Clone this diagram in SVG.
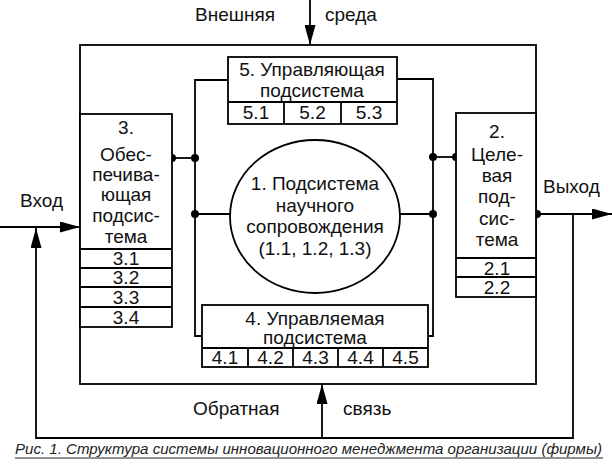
<svg xmlns="http://www.w3.org/2000/svg" width="612" height="468" viewBox="0 0 612 468">
<defs>
<marker id="arrB" markerWidth="20" markerHeight="11" refX="20" refY="5.5" orient="auto" markerUnits="userSpaceOnUse">
<path d="M0,0 L20,5.5 L0,11 Z" fill="#000"/>
</marker>
<style>
.ln{fill:none;stroke:#000;stroke-width:1.8}
.bx{fill:#fff;stroke:#000;stroke-width:1.8}
.t{font-family:"Liberation Sans",Arial,sans-serif;font-size:19px;fill:#111;text-anchor:middle}
.tl{font-family:"Liberation Sans",Arial,sans-serif;font-size:19px;fill:#111}
.dot{fill:#000}
.cap{font-family:"Liberation Sans",Arial,sans-serif;font-size:14px;font-style:italic;fill:#222}
</style>
</defs>
<rect width="612" height="468" fill="#fff"/>

<g id="connectors">
<rect class="ln" x="80" y="45" width="456" height="339"/>
<line class="ln" x1="310" y1="0" x2="310" y2="45" marker-end="url(#arrB)"/>
<line class="ln" x1="0" y1="227" x2="80" y2="227" marker-end="url(#arrB)"/>
<line class="ln" x1="537" y1="214" x2="612" y2="214" marker-end="url(#arrB)"/>
<polyline class="ln" points="573,214 573,438 36,438 36,228" marker-end="url(#arrB)"/>
<line class="ln" x1="322" y1="438" x2="322" y2="384" marker-end="url(#arrB)"/>
<polyline class="ln" points="228,80 195,80 195,336 202,336"/>
<polyline class="ln" points="397,79 433,79 433,336 428,336"/>
<line class="ln" x1="172" y1="158" x2="195" y2="158"/>
<line class="ln" x1="195" y1="214" x2="230" y2="214"/>
<line class="ln" x1="433" y1="157" x2="456" y2="157"/>
<line class="ln" x1="400" y1="214" x2="433" y2="214"/>
<circle class="dot" cx="172" cy="158" r="4"/>
<circle class="dot" cx="195" cy="158" r="4"/>
<circle class="dot" cx="195" cy="214" r="4"/>
<circle class="dot" cx="433" cy="157" r="4"/>
<circle class="dot" cx="456" cy="157" r="4"/>
<circle class="dot" cx="433" cy="214" r="4"/>
<circle class="dot" cx="537" cy="214" r="4"/>
</g>

<g id="labels">
<text class="tl" x="195" y="21">Внешняя</text>
<text class="tl" x="325" y="21">среда</text>
<text class="tl" x="20" y="207">Вход</text>
<text class="tl" x="543" y="193">Выход</text>
<text class="tl" x="193" y="415">Обратная</text>
<text class="tl" x="343" y="415">связь</text>
</g>

<g id="node5">
<rect class="bx" x="228" y="57" width="169" height="67"/>
<line class="ln" x1="228" y1="102" x2="397" y2="102"/>
<line class="ln" x1="284" y1="102" x2="284" y2="124"/>
<line class="ln" x1="341" y1="102" x2="341" y2="124"/>
<text class="t" x="312" y="76">5. Управляющая</text>
<text class="t" x="312" y="97">подсистема</text>
<text class="t" x="256" y="119">5.1</text>
<text class="t" x="312.5" y="119">5.2</text>
<text class="t" x="369" y="119">5.3</text>
</g>

<g id="node3">
<rect class="bx" x="80" y="114" width="92" height="213"/>
<line class="ln" x1="80" y1="249" x2="172" y2="249"/>
<line class="ln" x1="80" y1="268" x2="172" y2="268"/>
<line class="ln" x1="80" y1="287" x2="172" y2="287"/>
<line class="ln" x1="80" y1="307" x2="172" y2="307"/>
<text class="t" x="126" y="134">3.</text>
<text class="t" x="126" y="161">Обес-</text>
<text class="t" x="126" y="181">печива-</text>
<text class="t" x="126" y="201">ющая</text>
<text class="t" x="126" y="222">подсис-</text>
<text class="t" x="126" y="243">тема</text>
<text class="t" x="126" y="265">3.1</text>
<text class="t" x="126" y="284">3.2</text>
<text class="t" x="126" y="304">3.3</text>
<text class="t" x="126" y="324">3.4</text>
</g>

<g id="node2">
<rect class="bx" x="456" y="113" width="80" height="184"/>
<line class="ln" x1="456" y1="258" x2="536" y2="258"/>
<line class="ln" x1="456" y1="277" x2="536" y2="277"/>
<text class="t" x="497" y="138">2.</text>
<text class="t" x="497" y="161">Целе-</text>
<text class="t" x="497" y="182">вая</text>
<text class="t" x="497" y="203">под-</text>
<text class="t" x="497" y="225">сис-</text>
<text class="t" x="497" y="246">тема</text>
<text class="t" x="497" y="275">2.1</text>
<text class="t" x="497" y="294">2.2</text>
</g>

<g id="node1">
<ellipse class="bx" cx="315" cy="216.5" rx="85" ry="76.5"/>
<text class="t" x="315" y="190">1. Подсистема</text>
<text class="t" x="315" y="212">научного</text>
<text class="t" x="315" y="233">сопровождения</text>
<text class="t" x="315" y="255">(1.1, 1.2, 1.3)</text>
</g>

<g id="node4">
<rect class="bx" x="202" y="305" width="226" height="62"/>
<line class="ln" x1="202" y1="348" x2="428" y2="348"/>
<line class="ln" x1="248" y1="348" x2="248" y2="367"/>
<line class="ln" x1="293" y1="348" x2="293" y2="367"/>
<line class="ln" x1="338" y1="348" x2="338" y2="367"/>
<line class="ln" x1="383" y1="348" x2="383" y2="367"/>
<text class="t" x="315" y="325">4. Управляемая</text>
<text class="t" x="315" y="344">подсистема</text>
<text class="t" x="225" y="364">4.1</text>
<text class="t" x="270.5" y="364">4.2</text>
<text class="t" x="315.5" y="364">4.3</text>
<text class="t" x="360.5" y="364">4.4</text>
<text class="t" x="405.5" y="364">4.5</text>
</g>

<g id="caption">
<text class="cap" x="15" y="454" textLength="587" lengthAdjust="spacingAndGlyphs">Рис. 1. Структура системы инновационного менеджмента организации (фирмы)</text>
<line x1="15" y1="458" x2="603" y2="458" stroke="#222" stroke-width="1"/>
</g>
</svg>
